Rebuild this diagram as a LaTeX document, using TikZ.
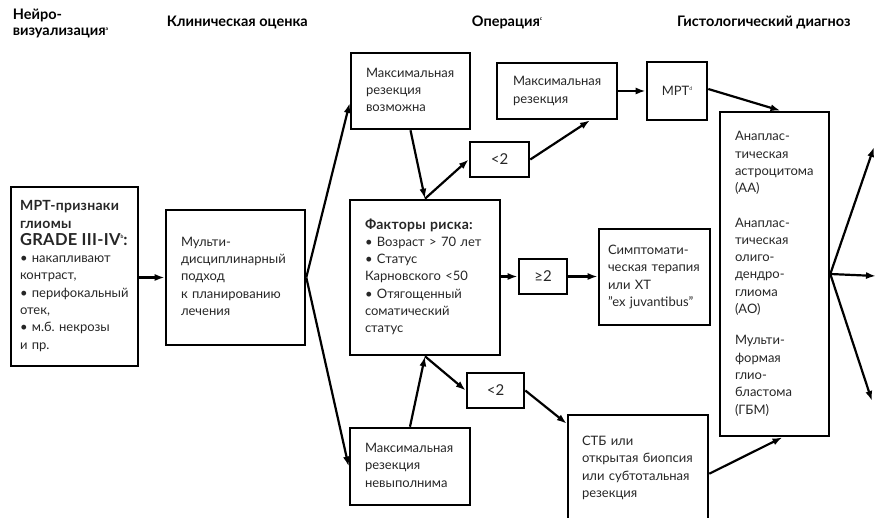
\documentclass[tikz,border=0pt]{standalone}
\usepackage{fontspec}
\setmainfont{Lato}
\usetikzlibrary{arrows.meta,calc}
% tiny footnote letter
\newcommand\fnmark[1]{\raisebox{0.8ex}{\fontsize{5}{5}\selectfont #1}}
% stacked left-aligned lines that never re-wrap
\newcommand\lines[1]{\begin{tabular}{@{}l@{}}#1\end{tabular}}
\newcommand\bodyfont{\fontsize{13}{17.3}\selectfont\frenchspacing}
\newcommand\headfont{\fontsize{14.5}{16}\selectfont\bfseries\frenchspacing}
% bold lead-in line inside a box
\newcommand\lead[2][14]{{\fontsize{#1}{17}\selectfont\bfseries\addfontfeatures{LetterSpace=2}#2}}

\begin{document}
\begin{tikzpicture}[x=1pt,y=-1pt,
  box/.style={draw=black, line width=2.6pt, rectangle, inner sep=0pt, align=left,
              font=\bodyfont, text=black!85},
  cnt/.style={box, font=\fontsize{15}{17}\selectfont},
  hdr/.style={inner sep=0pt, font=\headfont, anchor=base west},
  arr/.style={draw=black, line width=2.2pt, -{Latex[length=10pt,width=7pt]}},
]
\useasboundingbox (0,0) rectangle (876,518);
\clip (0,0) rectangle (876,518);

% column headings
\node[hdr] (hImgA) at (12.7,20) {Нейро-};
\node[hdr] (hImgB) at (12.7,36) {визуализация\fnmark{a}};
\node[hdr] (hClin) at (166.7,27) {Клиническая оценка};
\node[hdr] (hOp)   at (471.7,26.5) {Операция\fnmark{c}};
\node[hdr] (hHist) at (677,26.5) {Гистологический диагноз};

% boxes
\node[box, minimum width=127, minimum height=179, text width=109] (mri) at (74.5,276.5)
  {\lines{\lead{МРТ-признаки}\\ \lead{глиомы}\\
   \lead[16.5]{GRADE III-IV\fnmark{b}:}\\
   • накапливают\\ контраст,\\ • перифокальный\\ отек,\\ • м.б. некрозы\\ и пр.}};
\node[box, minimum width=139, minimum height=135, text width=109] (multi) at (235.5,277.5)
  {\lines{Мульти-\\ дисциплинарный\\ подход\\ к планированию\\ лечения}};
\node[box, minimum width=119, minimum height=76, text width=89] (poss) at (410.5,91)
  {\lines{Максимальная\\ резекция\\ возможна}};
\node[box, minimum width=150, minimum height=155, text width=120] (risk) at (425,277.5)
  {\lines{\lead{Факторы риска:}\\ • Возраст > 70 лет\\ • Статус\\ Карновского <50\\
   • Отягощенный\\ соматический\\ статус}};
\node[box, minimum width=120, minimum height=77, text width=90] (imposs) at (410,466.5)
  {\lines{Максимальная\\ резекция\\ невыполнима}};
\node[cnt, minimum width=59, minimum height=35] (lt1) at (499.5,159.5) {<2};
\node[cnt, minimum width=57, minimum height=35] (lt2) at (495.5,390.5) {<2};
\node[cnt, minimum width=48, minimum height=35] (ge2) at (543,276.5) {≥2};
\node[box, minimum width=120, minimum height=56, text width=88] (res) at (557,91)
  {\lines{Максимальная\\ резекция}};
\node[box, minimum width=60, minimum height=58] (mrt) at (677,91) {МРТ\fnmark{d}};
\node[box, minimum width=111, minimum height=96, text width=93] (sympt) at (654.5,277)
  {\lines{Симптомати-\\ ческая терапия\\ или ХТ\\ "ex juvantibus"}};
\node[box, minimum width=140, minimum height=106, text width=112] (stb) at (638,468)
  {\lines{СТБ или\\ открытая биопсия\\ или субтотальная\\ резекция}};
\node[box, minimum width=109, minimum height=324, text width=79] (hist) at (774.5,274)
  {\lines{Анаплас-\\ тическая\\ астроцитома\\ (АА)\\[17pt]
   Анаплас-\\ тическая\\ олиго-\\ дендро-\\ глиома\\ (АО)\\[14pt]
   Мульти-\\ формая\\ глио-\\ бластома\\ (ГБМ)}};

% free ends of the outgoing arrows
\coordinate (outUp)   at (874,147);
\coordinate (outMid)  at (876,276);
\coordinate (outDown) at (872,401);

% connectors
\draw[arr] (multi.west -| mri.east) -- (multi.west);
\draw[arr] (multi.east) -- ($(poss.west)+(0,12)$);
\draw[arr] (multi.east) -- (imposs.west);
\draw[arr] (poss.south) -- (risk.north);
\draw[arr] (risk.north) -- (lt1.west);
\draw[arr] (lt1.east) -- ($(res.south)+(33,0)$);
\draw[arr] (res.east) -- (mrt.west);
\draw[arr] ($(mrt.east)+(0,-2)$) -- ($(hist.north)+(6,0)$);
\draw[arr] (ge2.west -| risk.east) -- (ge2.west);
\draw[arr] (ge2.east) -- (ge2.east -| sympt.west);
\draw[arr] (imposs.north) -- (risk.south);
\draw[arr] (risk.south) -- (lt2.west);
\draw[arr] (lt2.east) -- ($(stb.north west)+(0,10)$);
\draw[arr] ($(stb.north east)+(0,60)$) -- ($(hist.south)+(8,0)$);
\draw[arr] (hist.east) -- (outUp);
\draw[arr] (hist.east) -- (outMid);
\draw[arr] (hist.east) -- (outDown);
\end{tikzpicture}
\end{document}
